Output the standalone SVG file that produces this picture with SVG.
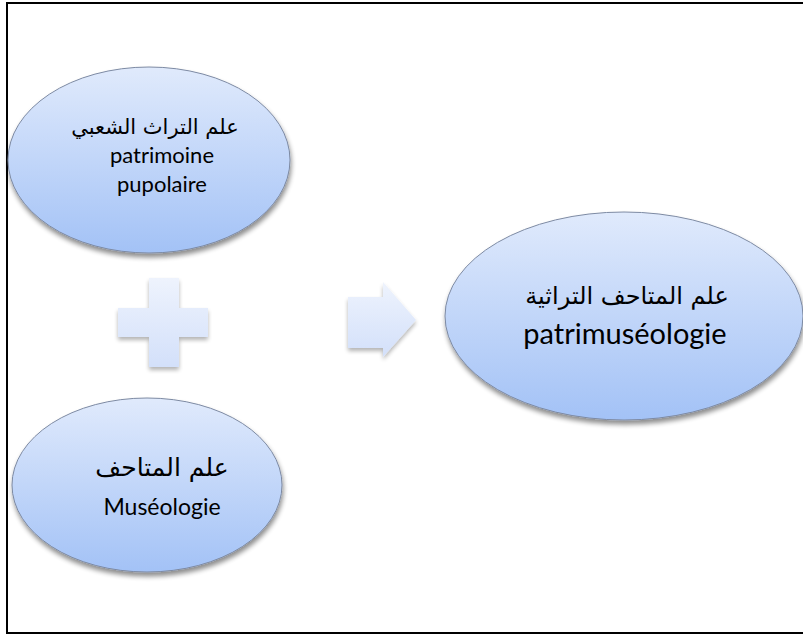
<svg xmlns="http://www.w3.org/2000/svg" width="803" height="636" viewBox="0 0 803 636">
<style>
.ell{fill:url(#eg);stroke:#7d8aa3;stroke-width:1;filter:url(#sh)}
.sym{fill:url(#sg);filter:url(#sh2)}
.ar{font-family:"DejaVu Sans",sans-serif;fill:#000;text-anchor:middle}
.la{font-family:Lato,"Open Sans",sans-serif;fill:#000;text-anchor:middle}
</style>
<defs>
<linearGradient id="eg" x1="0" y1="0" x2="0" y2="1">
<stop offset="0" stop-color="#e0eafc"/>
<stop offset="1" stop-color="#a3c2f6"/>
</linearGradient>
<linearGradient id="sg" x1="0" y1="0" x2="0" y2="1">
<stop offset="0" stop-color="#eef3fd"/>
<stop offset="1" stop-color="#d3e0fa"/>
</linearGradient>
<filter id="sh" x="-10%" y="-10%" width="120%" height="130%">
<feGaussianBlur in="SourceAlpha" stdDeviation="2.5"/>
<feOffset dx="1" dy="4" result="b"/>
<feComponentTransfer><feFuncA type="linear" slope="0.45"/></feComponentTransfer>
<feMerge><feMergeNode/><feMergeNode in="SourceGraphic"/></feMerge>
</filter>
<filter id="sh2" x="-20%" y="-20%" width="140%" height="150%">
<feGaussianBlur in="SourceAlpha" stdDeviation="2"/>
<feOffset dx="0" dy="3"/>
<feComponentTransfer><feFuncA type="linear" slope="0.3"/></feComponentTransfer>
<feMerge><feMergeNode/><feMergeNode in="SourceGraphic"/></feMerge>
</filter>
</defs>
<rect x="0" y="0" width="803" height="636" fill="#fff"/>
<rect x="7" y="3" width="800" height="630" fill="none" stroke="#000" stroke-width="2"/>
<g id="node-patrimoine">
<ellipse class="ell" cx="149" cy="160" rx="141" ry="93"/>
<text class="ar" x="155" y="134" font-size="21" direction="rtl">علم التراث الشعبي</text>
<text class="la" x="162" y="163" font-size="22">patrimoine</text>
<text class="la" x="162" y="192" font-size="22">pupolaire</text>
</g>
<g id="node-museologie">
<ellipse class="ell" cx="147" cy="485" rx="135" ry="87"/>
<text class="ar" x="162" y="476" font-size="25" direction="rtl">علم المتاحف</text>
<text class="la" x="162" y="515" font-size="23">Muséologie</text>
</g>
<g id="node-patrimuseologie">
<ellipse class="ell" cx="624" cy="316" rx="179" ry="104"/>
<text class="ar" x="627" y="304" font-size="24" direction="rtl">علم المتاحف التراثية</text>
<text class="la" x="625" y="344" font-size="29">patrimuséologie</text>
</g>
<g id="connectors">
<path class="sym" d="M149 278 H179 V308 H208 V337 H179 V367 H149 V337 H118 V308 H149 Z"/>
<path class="sym" d="M348 297 H383 V282 L416 320 L383 357 V348 H348 Z"/>
</g>
</svg>
